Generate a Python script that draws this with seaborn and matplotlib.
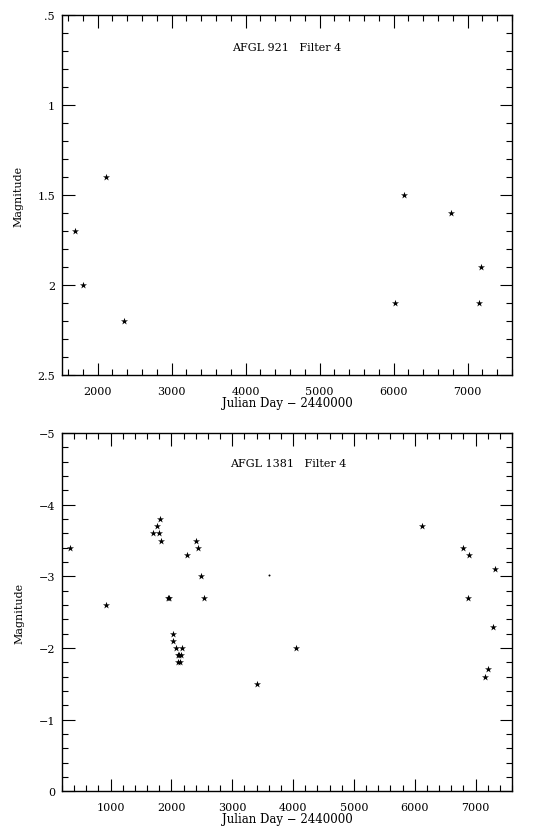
import numpy as np
import pandas as pd
import matplotlib
matplotlib.use("Agg")
import matplotlib.pyplot as plt
import seaborn as sns
from matplotlib.ticker import MultipleLocator, FixedLocator, FixedFormatter

# AFGL 921, filter 4
jd_921 = [1700, 1800, 2110, 2360, 6020, 6140, 6775, 7160, 7175]
mag_921 = [1.7, 2.0, 1.4, 2.2, 2.1, 1.5, 1.6, 2.1, 1.9]

# AFGL 1381, filter 4
jd_1381 = [330, 920, 1700, 1770, 1790, 1810, 1820, 1950, 1960, 2020, 2030,
           2080, 2100, 2110, 2130, 2140, 2160, 2170, 2260, 2400, 2430, 2490,
           2540, 3400, 4040, 6120, 6790, 6870, 6900, 7160, 7200, 7280, 7320]
mag_1381 = [-3.4, -2.6, -3.6, -3.7, -3.6, -3.8, -3.5, -2.7, -2.7, -2.2, -2.1,
            -2.0, -1.9, -1.8, -1.9, -1.8, -1.9, -2.0, -3.3, -3.5, -3.4, -3.0,
            -2.7, -1.5, -2.0, -3.7, -3.4, -2.7, -3.3, -1.6, -1.7, -2.3, -3.1]
# the one faint point
jd_1381_faint = [3600]
mag_1381_faint = [-3.02]

yticks_921 = [0.5, 1.0, 1.5, 2.0, 2.5]
ylabels_921 = [".5", "1", "1.5", "2", "2.5"]
yticks_1381 = [-5, -4, -3, -2, -1, 0]
ylabels_1381 = ["\u22125", "\u22124", "\u22123", "\u22122", "\u22121", "0"]

sns.set_style("ticks")
plt.rcParams['font.family'] = ['DejaVu Serif']
for key in ['text.color', 'axes.labelcolor', 'xtick.color', 'ytick.color',
            'axes.edgecolor']:
    plt.rcParams[key] = 'black'

fig = plt.figure(figsize=(5.6, 8.28), dpi=100)
ax1 = fig.add_axes([0.1107, 0.5459, 0.8036, 0.4348])
ax2 = fig.add_axes([0.1107, 0.0431, 0.8036, 0.4327])

df1 = pd.DataFrame({'jd': jd_921, 'mag': mag_921})
df2 = pd.DataFrame({'jd': jd_1381, 'mag': mag_1381})
df3 = pd.DataFrame({'jd': jd_1381_faint, 'mag': mag_1381_faint})

sns.scatterplot(data=df1, x='jd', y='mag', ax=ax1, marker='*', s=28,
                color='black', linewidth=0)
sns.scatterplot(data=df2, x='jd', y='mag', ax=ax2, marker='*', s=28,
                color='black', linewidth=0)
sns.scatterplot(data=df3, x='jd', y='mag', ax=ax2, marker='.', s=8,
                color='black', linewidth=0)

ax1.set_xlim(1520, 7600)
ax1.set_ylim(2.5, 0.5)
ax2.set_xlim(200, 7600)
ax2.set_ylim(0, -5)

ax1.text(0.5, 0.912, "AFGL 921   Filter 4", transform=ax1.transAxes,
         ha='center', va='center', fontsize=8)
ax2.text(0.502, 0.915, "AFGL 1381   Filter 4", transform=ax2.transAxes,
         ha='center', va='center', fontsize=8)

for ax, yt, yl, yminor in [(ax1, yticks_921, ylabels_921, 0.1),
                           (ax2, yticks_1381, ylabels_1381, 0.2)]:
    ax.xaxis.set_major_locator(MultipleLocator(1000))
    ax.xaxis.set_minor_locator(MultipleLocator(200))
    ax.yaxis.set_major_locator(FixedLocator(yt))
    ax.yaxis.set_major_formatter(FixedFormatter(yl))
    ax.yaxis.set_minor_locator(MultipleLocator(yminor))
    ax.tick_params(which='both', direction='in', top=True, right=True,
                   width=0.8, labelsize=8)
    ax.tick_params(axis='x', pad=8)
    ax.tick_params(axis='y', pad=5)
    ax.tick_params(which='major', length=9)
    ax.tick_params(which='minor', length=4.5)
    for sp in ax.spines.values():
        sp.set_linewidth(1.0)
    ax.set_xlabel("Julian Day \u2212 2440000", fontsize=8.5, labelpad=0)
    ax.set_ylabel("Magnitude", fontsize=8, labelpad=10)

fig.savefig("out.png", dpi=100)
